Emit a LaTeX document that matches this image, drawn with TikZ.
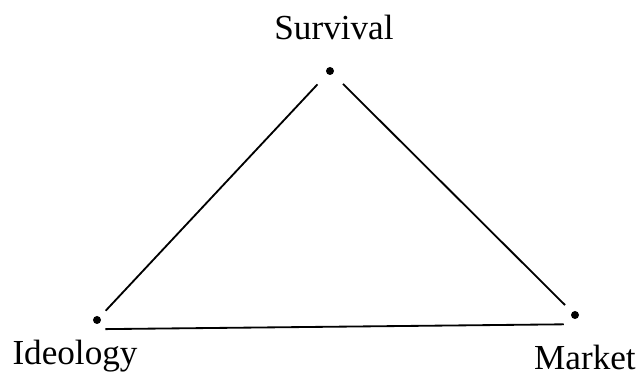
\documentclass[tikz,border=0pt]{standalone}
\usepackage{fontspec}
\setmainfont{Liberation Serif}
\usepackage{tikz}

\begin{document}
\begin{tikzpicture}[x=0.025cm,y=-0.025cm]
  \tikzset{
    corner/.style={circle,fill=black,inner sep=0pt,minimum size=0.2cm},
    vlabel/.style={anchor=base,font=\fontsize{25}{30}\selectfont},
    edge/.style={line width=1.3pt,shorten <=10pt,shorten >=10pt}
  }
  \useasboundingbox (0,0) rectangle (641,379);
  \node[corner] (surv) at (330,71) {};
  \node[corner] (ideo) at (97,320) {};
  \node[corner] (mark) at (575,315) {};
  \node[vlabel] (survlab) at (334,40) {Survival};
  \node[vlabel] (ideolab) at (75,365) {Ideology};
  \node[vlabel] (marklab) at (585,370) {Market};
  \draw[edge,shorten <=6pt] (ideo) -- (surv);
  \draw[edge,shorten >=7pt] (surv) -- (mark);
  \draw[edge,shorten <=6pt,shorten >=8pt] ([yshift=-0.23cm]ideo.center) -- ([yshift=-0.23cm]mark.center);
\end{tikzpicture}
\end{document}
